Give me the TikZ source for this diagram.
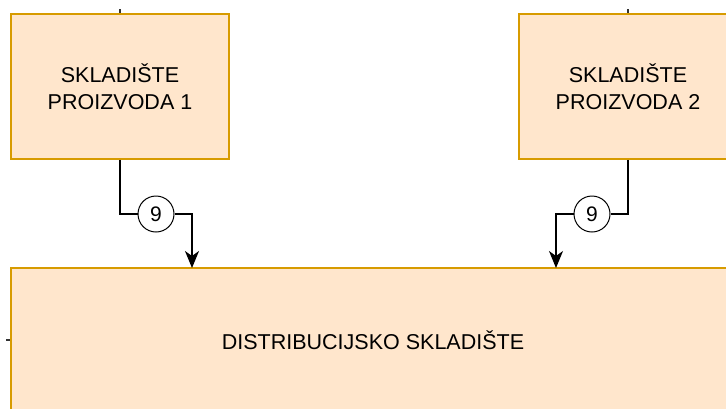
\documentclass[tikz,border=0pt]{standalone}
\usepackage{fontspec}
\setmainfont{Liberation Sans}
\usetikzlibrary{arrows.meta}
\definecolor{boxfill}{HTML}{FFE6CC}
\definecolor{boxline}{HTML}{D79B00}
\tikzset{
  store/.style={draw=boxline, fill=boxfill, line width=1.5pt, align=center,
    inner sep=0pt, font=\fontsize{21.5}{27.5}\selectfont},
  flownum/.style={draw, circle, fill=white, line width=1pt, minimum size=36pt,
    inner sep=0pt, font=\fontsize{21}{24}\selectfont},
  flow/.style={line width=1.5pt, -{Stealth[length=17pt,width=14pt,inset=5pt]}},
  stub/.style={line width=2pt, black!80},
}
\begin{document}
\begin{tikzpicture}[x=1pt,y=-1pt]
  \useasboundingbox (0,0) rectangle (726,408);
  \clip (0,0) rectangle (726,408);
  % stores
  \node[store, minimum width=218pt, minimum height=145pt] (p1) at (120,86.5) {SKLADIŠTE\\PROIZVODA 1};
  \node[store, minimum width=218pt, minimum height=145pt] (p2) at (628,86.5) {SKLADIŠTE\\PROIZVODA 2};
  \node[store, minimum width=724pt, minimum height=144pt] (dist) at (373,340) {DISTRIBUCIJSKO SKLADIŠTE};
  % cut-off inputs
  \coordinate (in1) at (120,9);
  \coordinate (in2) at (628,9);
  \coordinate (in3) at (6,340);
  \draw[stub] (in1) -- (p1.north);
  \draw[stub] (in2) -- (p2.north);
  \draw[stub] (in3) -- (dist.west);
  % flows 9
  \node[flownum] (n1) at (156,214) {9};
  \node[flownum] (n2) at (592,214) {9};
  \coordinate (d1) at (192,268);
  \coordinate (d2) at (556,268);
  \draw[line width=1.5pt] (p1.south) |- (n1.west);
  \draw[flow] (n1.east) -| (d1);
  \draw[line width=1.5pt] (p2.south) |- (n2.east);
  \draw[flow] (n2.west) -| (d2);
\end{tikzpicture}
\end{document}
